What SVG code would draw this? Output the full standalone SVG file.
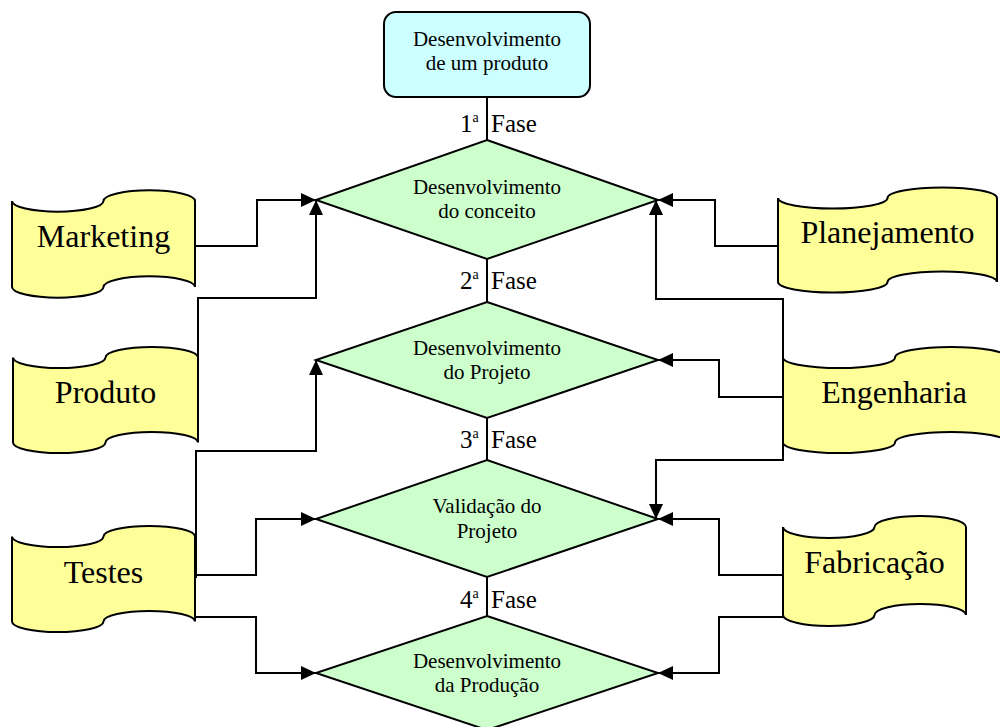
<svg xmlns="http://www.w3.org/2000/svg" width="1000" height="727" viewBox="0 0 1000 727">
  <style>
    text { font-family: "Liberation Serif", "Times New Roman", serif; fill: #000; }
    .box { fill: #CCFFFF; stroke: #000; stroke-width: 2; }
    .dia { fill: #CCFFCC; stroke: #000; stroke-width: 2; stroke-linejoin: miter; }
    .tape { fill: #FFFF99; stroke: #000; stroke-width: 2; }
    .small { font-size: 21px; text-anchor: middle; }
    .big { font-size: 32px; text-anchor: middle; }
    .phase { font-size: 25px; }
    .conn path { fill: none; stroke: #000; stroke-width: 2; }
    .arrow path { marker-end: url(#ah); }
  </style>
  <defs>
    <marker id="ah" markerWidth="15" markerHeight="14" refX="15" refY="7" orient="auto" markerUnits="userSpaceOnUse">
      <path d="M0,0 L15,7 L0,14 Z" fill="#000" stroke="none"/>
    </marker>
  </defs>

  <rect width="1000" height="727" fill="#fff"/>

  <!-- top process box -->
  <g id="produto-topo">
    <rect class="box" x="384" y="12" width="206" height="85" rx="12" ry="12"/>
    <text class="small" x="487" y="46">Desenvolvimento</text>
    <text class="small" x="487" y="70">de um produto</text>
  </g>

  <!-- phase decisions -->
  <g id="fase1">
    <polygon class="dia" points="487,140 658,200 487,259 316,200"/>
    <text class="small" x="487" y="194">Desenvolvimento</text>
    <text class="small" x="487" y="218">do conceito</text>
  </g>
  <g id="fase2">
    <polygon class="dia" points="487,302 658,360 487,418 316,360"/>
    <text class="small" x="487" y="355">Desenvolvimento</text>
    <text class="small" x="487" y="379">do Projeto</text>
  </g>
  <g id="fase3">
    <polygon class="dia" points="487,460 658,519 487,577 316,519"/>
    <text class="small" x="487" y="513">Validação do</text>
    <text class="small" x="487" y="538">Projeto</text>
  </g>
  <g id="fase4">
    <polygon class="dia" points="487,616 658,673 487,730 316,673"/>
    <text class="small" x="487" y="668">Desenvolvimento</text>
    <text class="small" x="487" y="692">da Produção</text>
  </g>

  <!-- punched-tape sources, left side -->
  <g id="marketing">
    <path class="tape" d="M12,201 A45.75,10.7 0 0 0 103.5,201 A45.75,10.7 0 0 1 195,201 L195,287 A45.75,10.7 0 0 0 103.5,287 A45.75,10.7 0 0 1 12,287 Z"/>
    <text class="big" x="103.5" y="247">Marketing</text>
  </g>
  <g id="produto">
    <path class="tape" d="M13,357.5 A46.25,10.6 0 0 0 105.5,357.5 A46.25,10.6 0 0 1 198,357.5 L198,442.5 A46.25,10.6 0 0 0 105.5,442.5 A46.25,10.6 0 0 1 13,442.5 Z"/>
    <text class="big" x="105.5" y="403">Produto</text>
  </g>
  <g id="testes">
    <path class="tape" d="M12,536.5 A45.75,10.6 0 0 0 103.5,536.5 A45.75,10.6 0 0 1 195,536.5 L195,621.5 A45.75,10.6 0 0 0 103.5,621.5 A45.75,10.6 0 0 1 12,621.5 Z"/>
    <text class="big" x="103.5" y="583">Testes</text>
  </g>

  <!-- punched-tape sources, right side -->
  <g id="planejamento">
    <path class="tape" d="M778,198 A54.75,10.5 0 0 0 887.5,198 A54.75,10.5 0 0 1 997,198 L997,282 A54.75,10.5 0 0 0 887.5,282 A54.75,10.5 0 0 1 778,282 Z"/>
    <text class="big" x="887.5" y="243">Planejamento</text>
  </g>
  <g id="engenharia">
    <path class="tape" d="M783,357.5 A56,10.6 0 0 0 895,357.5 A56,10.6 0 0 1 1007,357.5 L1007,442.5 A56,10.6 0 0 0 895,442.5 A56,10.6 0 0 1 783,442.5 Z"/>
    <text class="big" x="894" y="403">Engenharia</text>
  </g>
  <g id="fabricacao">
    <path class="tape" d="M783,527 A45.75,11 0 0 0 874.5,527 A45.75,11 0 0 1 966,527 L966,615 A45.75,11 0 0 0 874.5,615 A45.75,11 0 0 1 783,615 Z"/>
    <text class="big" x="874.5" y="573">Fabricação</text>
  </g>

  <!-- connectors -->
  <g id="conectores" class="conn">
    <!-- phase sequence -->
    <path d="M487,97 V140"/>
    <path d="M487,259 V302"/>
    <path d="M487,418 V460"/>
    <path d="M487,577 V616"/>
    <g class="arrow">
      <path d="M195,246 H257 V200 H316"/>
      <path d="M198,400 V298 H316 V200"/>
      <path d="M196,578 V451 H316 V360"/>
      <path d="M195,575 H256 V519 H316"/>
      <path d="M195,617 H256 V673 H316"/>
      <path d="M778,246 H715 V200 H658"/>
      <path d="M783,400 V299 H656 V200"/>
      <path d="M783,397 H719 V360 H658"/>
      <path d="M783,400 V460 H656 V519"/>
      <path d="M783,575 H719 V519 H658"/>
      <path d="M783,617 H719 V673 H658"/>
    </g>
  </g>

  <!-- phase labels -->
  <g id="rotulos-fase">
    <text class="phase" x="460" y="132">1<tspan font-size="14" dy="-10">a</tspan></text>
    <text class="phase" x="491" y="132">Fase</text>
    <text class="phase" x="460" y="289">2<tspan font-size="14" dy="-10">a</tspan></text>
    <text class="phase" x="491" y="289">Fase</text>
    <text class="phase" x="460" y="448">3<tspan font-size="14" dy="-10">a</tspan></text>
    <text class="phase" x="491" y="448">Fase</text>
    <text class="phase" x="460" y="608">4<tspan font-size="14" dy="-10">a</tspan></text>
    <text class="phase" x="491" y="608">Fase</text>
  </g>
</svg>
